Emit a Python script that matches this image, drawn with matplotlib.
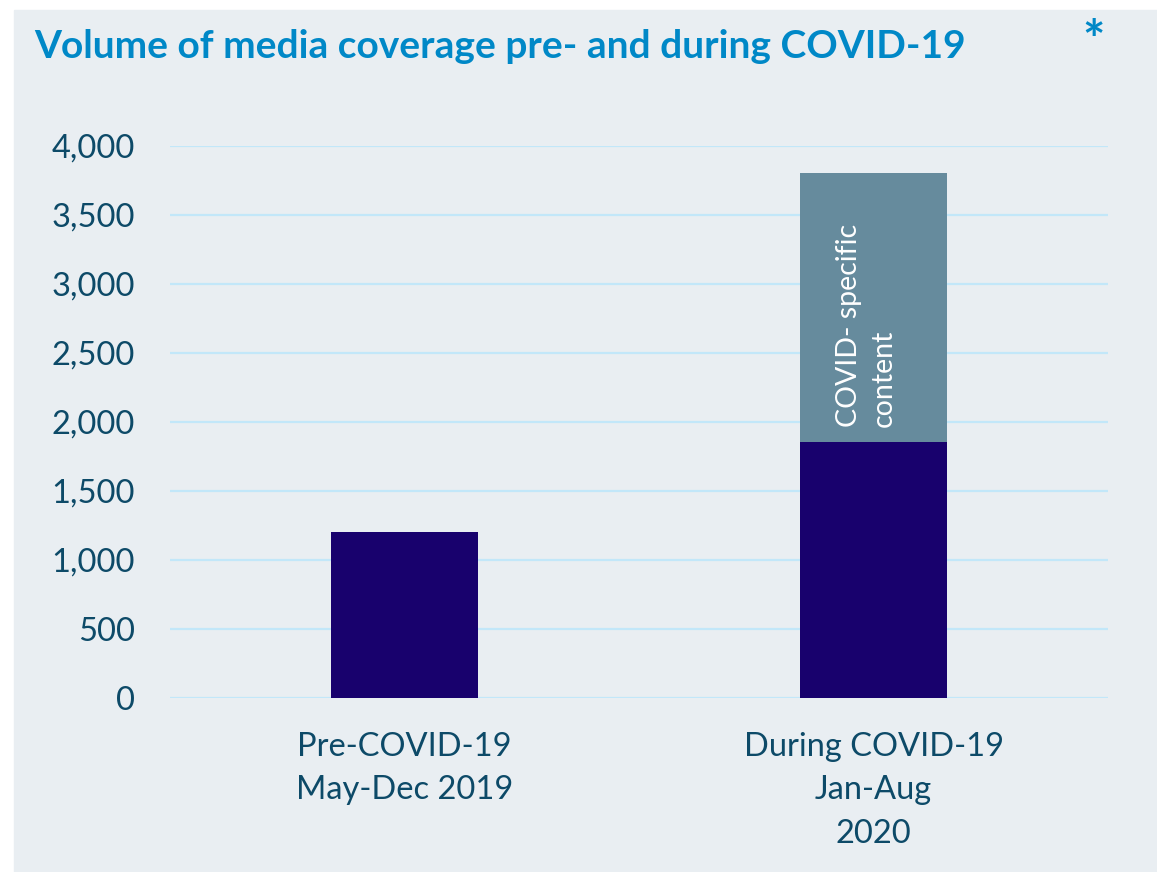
import matplotlib.pyplot as plt
from matplotlib.patches import Rectangle

categories = ["Pre-COVID-19\nMay-Dec 2019", "During COVID-19\nJan-Aug\n2020"]
general_content = [1200, 1850]
covid_content = [0, 1950]
yticks = [0, 500, 1000, 1500, 2000, 2500, 3000, 3500, 4000]

plt.rcParams['font.family'] = ['Lato', 'DejaVu Sans']

W, H = 1157, 872
fig = plt.figure(figsize=(W / 100, H / 100), dpi=100)
fig.patches.append(Rectangle((14 / W, 0), 1 - 14 / W, 1 - 10 / H,
                             transform=fig.transFigure, color='#E9EEF2', zorder=-1))

ax = fig.add_axes([170 / W, 1 - 697.5 / H, (1108 - 170) / W, (697.5 - 145.7) / H])
ax.set_facecolor('none')

x = range(len(categories))
ax.bar(x, general_content, width=0.313, color='#18016D', zorder=3)
ax.bar(x, covid_content, width=0.313, bottom=general_content, color='#668B9D', zorder=3)

# label inside the covid-specific segment
mid = general_content[1] + covid_content[1] / 2
ax.text(0.985, mid - 125, "COVID- specific\ncontent", rotation=90, ha='center', va='center',
        multialignment='left', color='white', fontsize=20.5, linespacing=1.45, zorder=4)

ax.set_xlim(-0.5, 1.5)
ax.set_ylim(0, 4000)
ax.set_yticks(yticks)
ax.set_yticklabels([f"{v:,}" for v in yticks])
ax.set_xticks(list(x))
ax.set_xticklabels(categories, linespacing=1.55)
ax.grid(axis='y', color='#C2E7F9', linewidth=1.6, zorder=0)
ax.tick_params(axis='both', length=0, labelsize=23.5, labelcolor='#0D4A68')
ax.tick_params(axis='y', pad=25)
ax.tick_params(axis='x', pad=25)
for s in ax.spines.values():
    s.set_visible(False)

fig.text(34 / W, 1 - 46 / H, "Volume of media coverage pre- and during COVID-19",
         fontsize=28, fontweight='bold', color='#0088C7', va='center')
fig.text(1094 / W, 1 - 44 / H, "*", fontsize=38, fontweight='bold', color='#0088C7',
         ha='center', va='center')

fig.savefig("out.png", dpi=100)
